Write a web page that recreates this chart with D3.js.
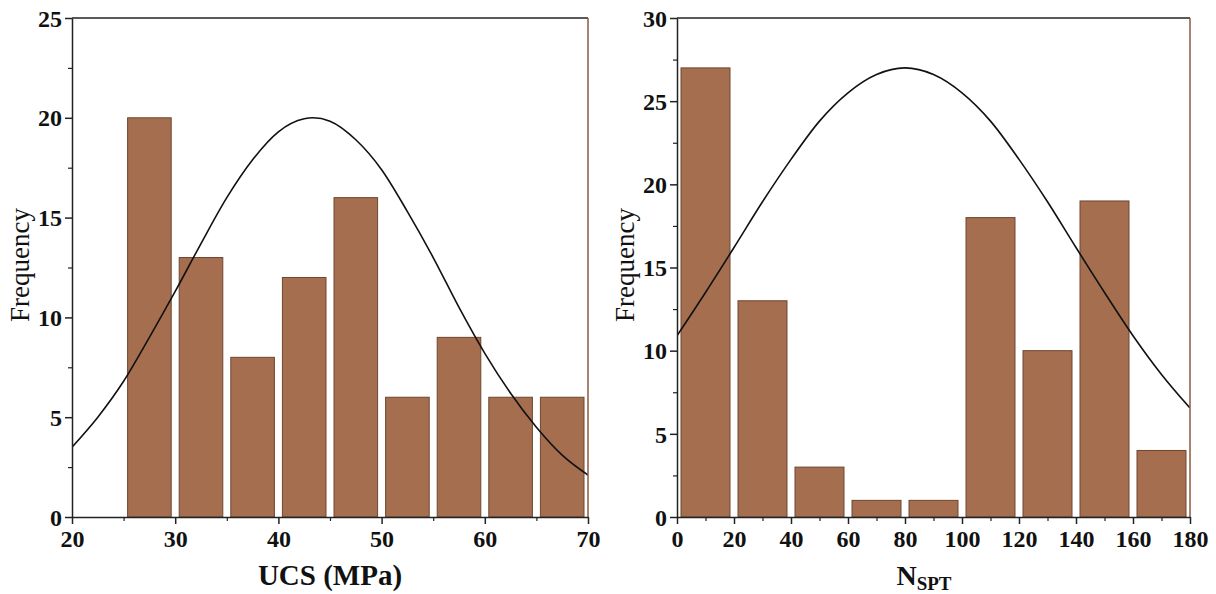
<!DOCTYPE html>
<html>
<head>
<meta charset="utf-8">
<script src="https://cdn.jsdelivr.net/npm/d3@7"></script>
<style>
	body { margin: 0; background: #fff; }
	text { font-family: "Liberation Serif", "Times New Roman", serif; }
</style>
</head>
<body>
<div id="chart"></div>
<script>
// UCS histogram (bin starts, width 5 MPa)
const ucsBinStarts = [25, 30, 35, 40, 45, 50, 55, 60, 65];
const ucsCounts = [20, 13, 8, 12, 16, 6, 9, 6, 6];
const ucsCurveX = [20, 22.5, 25, 27.5, 30, 32.5, 35, 37.5, 40, 42.5, 43.35, 45, 47.5, 50, 52.5, 55, 57.5, 60, 62.5, 65, 67.5, 70];
const ucsCurveY = [3.5, 5.0, 6.8, 9.0, 11.3, 13.7, 16.0, 17.9, 19.3, 19.95, 20, 19.83, 18.9, 17.4, 15.3, 13.0, 10.5, 8.2, 6.2, 4.5, 3.1, 2.1];
const ucsXTicks = [20, 30, 40, 50, 60, 70];
const ucsYTicks = [0, 5, 10, 15, 20, 25];

// N_SPT histogram (bin starts, width 20)
const sptBinStarts = [0, 20, 40, 60, 80, 100, 120, 140, 160];
const sptCounts = [27, 13, 3, 1, 1, 18, 10, 19, 4];
const sptCurveX = [0, 10, 20, 30, 40, 50, 60, 70, 80, 90, 100, 110, 120, 130, 140, 150, 160, 170, 180];
const sptCurveY = [10.9, 13.5, 16.2, 18.95, 21.5, 23.8, 25.5, 26.6, 27, 26.6, 25.5, 23.8, 21.5, 18.95, 16.2, 13.5, 10.9, 8.57, 6.55];
const sptXTicks = [0, 20, 40, 60, 80, 100, 120, 140, 160, 180];
const sptYTicks = [0, 5, 10, 15, 20, 25, 30];

const barFill = "#a46e4f", barStroke = "#6e4630", frameBrown = "#8a5a40";

const svg = d3.select("#chart").append("svg")
	.attr("width", 1216)
	.attr("height", 594);

function drawPanel(opt) {
	const g = svg.append("g");
	const x = d3.scaleLinear().domain(opt.xDomain).range([opt.left, opt.right]);
	const y = d3.scaleLinear().domain(opt.yDomain).range([517, 18]);
	const clipId = "clip" + opt.id;

	g.append("clipPath").attr("id", clipId)
		.append("rect")
			.attr("x", opt.left).attr("y", 18)
			.attr("width", opt.right - opt.left).attr("height", 499);

	// bars
	g.selectAll("rect.bar")
		.data(opt.starts.map((s, i) => ({start: s, count: opt.counts[i]})))
		.join("rect")
			.attr("class", "bar")
			.attr("x", d => x(d.start) + 4)
			.attr("width", d => x(d.start + opt.binWidth) - x(d.start) - 8)
			.attr("y", d => y(d.count))
			.attr("height", d => y(0) - y(d.count))
			.attr("fill", barFill)
			.attr("stroke", barStroke)
			.attr("stroke-width", 1);

	// fitted curve
	g.append("path")
		.datum(opt.curveX.map((v, i) => [v, opt.curveY[i]]))
		.attr("clip-path", `url(#${clipId})`)
		.attr("fill", "none")
		.attr("stroke", "#111")
		.attr("stroke-width", 1.6)
		.attr("d", d3.line()
			.x(d => x(d[0]))
			.y(d => y(d[1]))
			.curve(d3.curveMonotoneX));

	// frame: top black, right brown
	g.append("line")
		.attr("x1", opt.left).attr("x2", opt.right)
		.attr("y1", 18).attr("y2", 18)
		.attr("stroke", "#222").attr("stroke-width", 1.5);
	g.append("line")
		.attr("x1", opt.right).attr("x2", opt.right)
		.attr("y1", 18).attr("y2", 517)
		.attr("stroke", frameBrown).attr("stroke-width", 1.5);

	// minor ticks
	const xMinor = opt.xTicks.slice(0, -1).map((t, i) => (t + opt.xTicks[i + 1]) / 2);
	const yMinor = opt.yTicks.slice(0, -1).map((t, i) => (t + opt.yTicks[i + 1]) / 2);
	g.append("g")
		.attr("transform", "translate(0,517)")
		.call(d3.axisBottom(x).tickValues(xMinor).tickSize(4).tickFormat(""))
		.call(a => a.select(".domain").remove())
		.selectAll("line").attr("stroke", "#222").attr("stroke-width", 1.2);
	g.append("g")
		.attr("transform", `translate(${opt.left},0)`)
		.call(d3.axisLeft(y).tickValues(yMinor).tickSize(4).tickFormat(""))
		.call(a => a.select(".domain").remove())
		.selectAll("line").attr("stroke", "#222").attr("stroke-width", 1.2);

	// major axes
	const xAxis = g.append("g")
		.attr("transform", "translate(0,517)")
		.call(d3.axisBottom(x).tickValues(opt.xTicks).tickSize(7).tickSizeOuter(0).tickPadding(6));
	const yAxis = g.append("g")
		.attr("transform", `translate(${opt.left},0)`)
		.call(d3.axisLeft(y).tickValues(opt.yTicks).tickSize(7).tickSizeOuter(0).tickPadding(3));
	[xAxis, yAxis].forEach(a => {
		a.select(".domain").attr("stroke", "#222").attr("stroke-width", 1.5);
		a.selectAll(".tick line").attr("stroke", "#222").attr("stroke-width", 1.5);
		a.selectAll(".tick text")
			.attr("font-family", "'Liberation Serif', serif")
			.attr("font-weight", "bold")
			.attr("font-size", 24)
			.attr("fill", "#111");
	});
	yAxis.selectAll(".tick text").attr("dy", "0.34em");

	// y label
	g.append("text")
		.attr("transform", `translate(${opt.left - 43},${265}) rotate(-90)`)
		.attr("text-anchor", "middle")
		.attr("font-size", 27)
		.attr("fill", "#111")
		.text("Frequency");

	// x label
	const xl = g.append("text")
		.attr("x", opt.labelX)
		.attr("y", 585)
		.attr("text-anchor", "middle")
		.attr("font-size", opt.xSub ? 28 : 29)
		.attr("font-weight", "bold")
		.attr("fill", "#111");
	xl.append("tspan").text(opt.xLabel);
	if (opt.xSub) {
		xl.append("tspan").attr("font-size", 19).attr("dy", 5).text(opt.xSub);
	}
}

drawPanel({
	id: "ucs", left: 72, right: 588, labelX: 330,
	xDomain: [20, 70], yDomain: [0, 25],
	starts: ucsBinStarts, counts: ucsCounts, binWidth: 5,
	curveX: ucsCurveX, curveY: ucsCurveY,
	xTicks: ucsXTicks, yTicks: ucsYTicks,
	xLabel: "UCS (MPa)"
});

drawPanel({
	id: "spt", left: 677, right: 1190, labelX: 924,
	xDomain: [0, 180], yDomain: [0, 30],
	starts: sptBinStarts, counts: sptCounts, binWidth: 20,
	curveX: sptCurveX, curveY: sptCurveY,
	xTicks: sptXTicks, yTicks: sptYTicks,
	xLabel: "N", xSub: "SPT"
});
</script>
</body>
</html>
